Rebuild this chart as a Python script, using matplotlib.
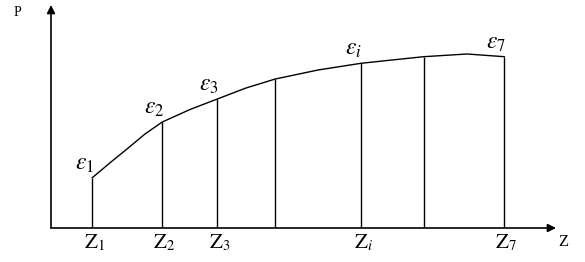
import matplotlib.pyplot as plt

# stations along Z (pixel-ish units from the origin) and P at each one
z_pos = [41.3, 111.3, 166.3, 224.3, 310.0, 372.7, 453.3]
p_val = [50.3, 106.0, 129.0, 149.0, 164.7, 171.3, 171.3]
z_labels = [r'$\mathrm{Z}_1$', r'$\mathrm{Z}_2$', r'$\mathrm{Z}_3$', '', r'$\mathrm{Z}_i$', '', r'$\mathrm{Z}_7$']
eps_labels = [r'$\varepsilon_1$', r'$\varepsilon_2$', r'$\varepsilon_3$', '', r'$\varepsilon_i$', '', r'$\varepsilon_7$']

# curve P(Z)
curve_z = [41.3, 60, 76, 94, 111.3, 139, 166.3, 195, 224.3, 267, 310.0, 341, 372.7, 416, 453.3]
curve_p = [50.3, 66, 79, 94, 106.0, 118.5, 129.0, 140, 149.0, 158, 164.7, 168, 171.3, 174, 171.3]

plt.rcParams['font.family'] = 'Liberation Serif'
plt.rcParams['mathtext.fontset'] = 'stix'

fig = plt.figure(figsize=(5.85, 2.62), dpi=100)
ax = fig.add_axes([51 / 585, 34 / 262, 505 / 585, 223 / 262])
ax.set_xlim(0, 505)
ax.set_ylim(0, 223)
ax.axis('off')

# axes with arrows
ax.annotate('', xy=(505, 0), xytext=(0, 0),
            arrowprops=dict(arrowstyle='-|>', color='black', lw=1.2, mutation_scale=12, shrinkA=0, shrinkB=0))
ax.annotate('', xy=(0, 223), xytext=(0, 0),
            arrowprops=dict(arrowstyle='-|>', color='black', lw=1.2, mutation_scale=12, shrinkA=0, shrinkB=0))

ax.plot(curve_z, curve_p, color='black', lw=1.0)
ax.vlines(z_pos, 0, p_val, color='black', lw=1.0)

for z, p, zl, el in zip(z_pos, p_val, z_labels, eps_labels):
    if zl:
        ax.text(z + 2, -5, zl, ha='center', va='top', fontsize=15)
    if el:
        ax.text(z - 8, p + 3, el, ha='center', va='bottom', fontsize=17)

fig.text(17 / 585, 1 - 13 / 262, 'P', ha='center', va='center', fontsize=10)
fig.text(563 / 585, 1 - 242 / 262, 'Z', ha='center', va='center', fontsize=12)

fig.savefig('out.png', dpi=100)
